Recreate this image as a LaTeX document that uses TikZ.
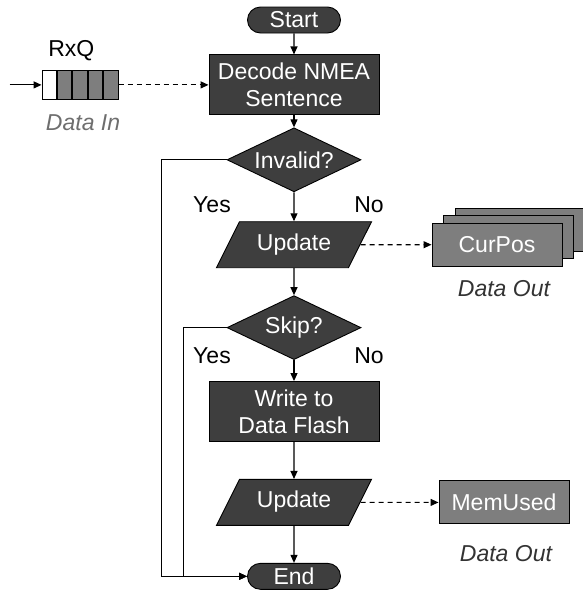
\documentclass[tikz,border=0pt]{standalone}
\usepackage{fontspec}
\setmainfont{Liberation Sans}
\usetikzlibrary{positioning,shapes.geometric,shapes.misc,shadows,arrows.meta}
\definecolor{boxdark}{HTML}{3E3E3E}
\definecolor{boxgray}{HTML}{7E7E7E}
\definecolor{labgray}{HTML}{6E6E6E}
\definecolor{labdark}{HTML}{333333}

\begin{document}
\begin{tikzpicture}[
  x=1pt, y=-1pt,
  every node/.style={font=\fontsize{23}{27}\selectfont, align=center},
  outl/.style={draw, line width=0.9pt, inner sep=0pt},
  proc/.style={outl, fill=boxdark, text=white, minimum width=170pt, minimum height=60pt},
  term/.style={outl, rounded rectangle, fill=boxdark, text=white, minimum width=93pt, minimum height=26pt},
  dec/.style={outl, diamond, aspect=2.1, fill=boxdark, text=white, minimum width=134pt, minimum height=64pt},
  io/.style={outl, trapezium, trapezium left angle=63.4, trapezium right angle=116.6,
    fill=boxdark, text=white, text width=109pt, text height=16pt, text depth=5pt, inner ysep=12.5pt},
  store/.style={outl, fill=boxgray, text=white, minimum width=130pt, minimum height=43pt},
  cell/.style={outl, fill=boxgray, minimum width=14.5pt, minimum height=29pt},
  note/.style={font=\fontsize{23}{27}\selectfont\itshape},
  flow/.style={draw, line width=1.1pt, -{Triangle[length=8pt,width=7pt]}},
  data/.style={flow, dash pattern=on 5pt off 4pt}
]
\useasboundingbox (0,0) rectangle (582,595);

% main flow
\node[term] (S) at (294,20) {Start};
\node[proc, below=21pt of S] (D) {Decode NMEA\\Sentence};
\node[dec, below=12pt of D] (I) {Invalid?};
\node[io, below=29pt of I] (U1) {Update};
\node[dec, below=27pt of U1] (K) {Skip?};
\node[proc, below=21pt of K] (W) {Write to\\Data Flash};
\node[io, below=37pt of W] (U2) {Update};
\node[term, below=37pt of U2] (E) {End};

% receive queue
\node[cell, left=90pt of D] (Q5) {};
\foreach \i/\j in {4/5,3/4,2/3}
  \node[cell, left=0pt of Q\j] (Q\i) {};
\node[cell, fill=white, left=0pt of Q2] (Q1) {};
\coordinate[left=32pt of Q1] (IN);
\node[above=6pt of Q2.north east, xshift=-1pt] (RQ) {RxQ};
\node[note, text=labgray, below=11pt of Q3, xshift=3pt] (DI) {Data In};

% outputs
\node[store, right=71pt of U1,
  copy shadow={shadow xshift=23pt, shadow yshift=15pt},
  copy shadow={shadow xshift=11.5pt, shadow yshift=7.5pt}] (CP) {CurPos};
\node[note, text=labdark, below=10pt of CP, xshift=7pt] (DO1) {Data Out};
\node[store, right=78pt of U2] (MU) {MemUsed};
\node[note, text=labdark, below=18pt of MU, xshift=2pt] (DO2) {Data Out};

% branch labels
\node (Y1) at ([shift={(-82,12)}]I.south) {Yes};
\node (N1) at ([shift={(75,12)}]I.south) {No};
\node (Y2) at ([shift={(-82,-4)}]K.south) {Yes};
\node (N2) at ([shift={(75,-4)}]K.south) {No};

\draw[flow] (S) -- (D);
\draw[flow] (D) -- (I);
\draw[flow] (I) -- (U1);
\draw[flow] (U1) -- (K);
\draw[flow] (K) -- (W);
\draw[flow] (W) -- (U2);
\draw[flow] (U2) -- (E);
\draw[flow] (I.west) -- ++(-65,0) |- (E.west);
\draw[flow] (K.west) -- ++(-43,0) |- (E.west);
\draw[flow] (IN) -- (Q1);
\draw[data] (Q5) -- (D);
\draw[data] (U1) -- (CP);
\draw[data] (U2) -- (MU);
\end{tikzpicture}
\end{document}
